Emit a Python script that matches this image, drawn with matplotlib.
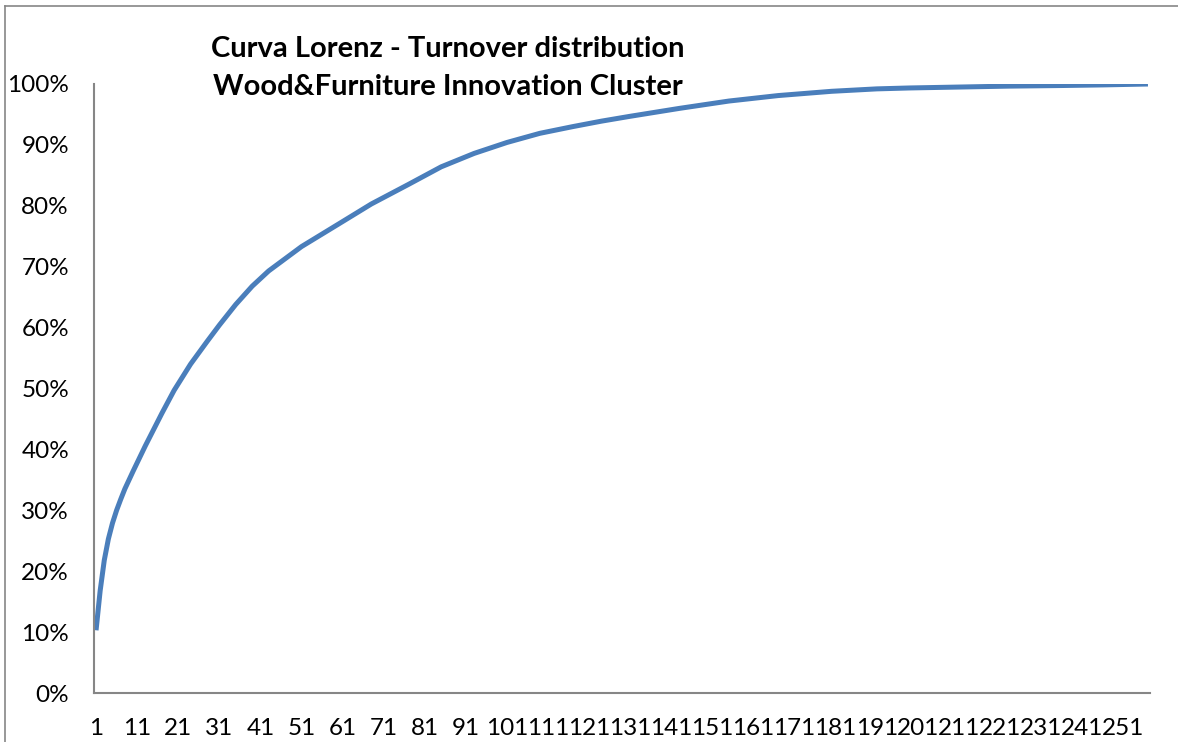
import matplotlib
matplotlib.use("Agg")
import matplotlib.pyplot as plt
from matplotlib.lines import Line2D
from matplotlib.ticker import FuncFormatter

# cumulative share of turnover (%) by firm rank, firms sorted by turnover
firm_rank = [1, 2, 3, 4, 5, 6, 7, 8, 10, 13, 17, 20, 24, 28, 31, 35, 39, 43,
             51, 60, 68, 77, 85, 93, 101, 109, 117, 124, 131, 143, 155, 167,
             180, 191, 199, 211, 223, 236, 246, 257]
cum_share = [10.3, 16.8, 21.8, 25.3, 27.9, 30.0, 31.8, 33.5, 36.4, 40.6, 45.9,
             49.7, 54.0, 57.7, 60.4, 63.8, 66.8, 69.3, 73.3, 77.0, 80.3, 83.5,
             86.4, 88.6, 90.4, 91.9, 93.0, 93.9, 94.7, 96.0, 97.2, 98.1, 98.8,
             99.2, 99.35, 99.5, 99.65, 99.75, 99.85, 100.0]
n_firms = 257
x_ticks = list(range(1, n_firms, 10))
y_ticks = list(range(0, 101, 10))

title = "Curva Lorenz - Turnover distribution\nWood&Furniture Innovation Cluster"

plt.rcParams["font.family"] = ["Lato", "DejaVu Sans"]
GREY = "#868686"

fig = plt.figure(figsize=(11.78, 7.42), dpi=100)
ax = fig.add_axes([94 / 1178, 1 - 693 / 742, (1150 - 94) / 1178, (693 - 84) / 742])

ax.plot(firm_rank, cum_share, color="#4A7EBB", lw=3.6,
        solid_capstyle="butt", solid_joinstyle="round")

ax.set_xlim(0.5, n_firms + 0.5)
ax.set_ylim(0, 100)
ax.set_xticks(x_ticks)
ax.set_xticklabels([str(t) for t in x_ticks])
ax.set_yticks(y_ticks)
ax.yaxis.set_major_formatter(FuncFormatter(lambda v, _: f"{v:.0f}%"))
ax.tick_params(axis="both", length=0, labelsize=17.5, colors="black")
ax.tick_params(axis="y", pad=18)
ax.tick_params(axis="x", pad=18)

for side in ("top", "right"):
    ax.spines[side].set_visible(False)
for side in ("left", "bottom"):
    ax.spines[side].set_color(GREY)
    ax.spines[side].set_linewidth(1.5)

fig.text(448 / 1178, 1 - 68 / 742, title, ha="center", va="center",
         fontsize=21, fontweight="bold", linespacing=1.55)

# chart frame
fig.add_artist(Line2D([5 / 1178, 5 / 1178], [0, 1 - 6 / 742],
                      transform=fig.transFigure, color=GREY, lw=1.2))
fig.add_artist(Line2D([5 / 1178, 1], [1 - 6 / 742, 1 - 6 / 742],
                      transform=fig.transFigure, color=GREY, lw=1.2))

fig.savefig("out.png", dpi=100)
